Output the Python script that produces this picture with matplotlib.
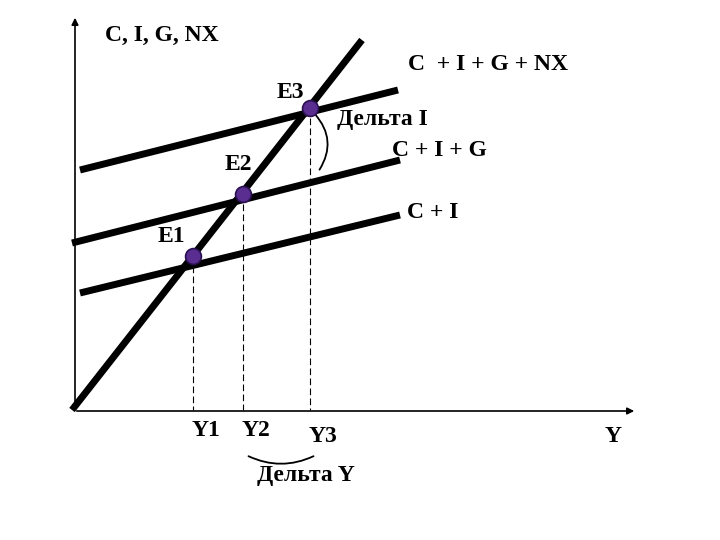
import matplotlib
matplotlib.use("Agg")
import matplotlib.pyplot as plt
from matplotlib.patches import FancyArrowPatch

# ── diagram geometry (picture coordinates, y grows downward) ──
LINE_45 = ([72, 362], [410, 40])
LINE_CI = ([80, 400], [293, 215])
LINE_CIG = ([72, 400], [243, 160])
LINE_CIGNX = ([80, 398], [170, 90])

POINT_NAMES = ["E1", "E2", "E3"]
POINT_X = [193, 243, 310]
POINT_Y = [256, 194, 108]
Y_LABELS = ["Y1", "Y2", "Y3"]

FONT = dict(family="Liberation Serif", fontweight="bold", color="black")

fig = plt.figure(figsize=(7.2, 5.4), dpi=100)
ax = fig.add_axes([0, 0, 1, 1])
ax.set_xlim(0, 720)
ax.set_ylim(540, 0)
ax.axis("off")

# axes with arrows
ax.annotate("", xy=(75, 15), xytext=(75, 411),
            arrowprops=dict(arrowstyle="-|>", color="black", lw=1.2))
ax.annotate("", xy=(637, 411), xytext=(74, 411),
            arrowprops=dict(arrowstyle="-|>", color="black", lw=1.2))

for xs, ys in [LINE_45, LINE_CI, LINE_CIG, LINE_CIGNX]:
    ax.plot(xs, ys, color="black", lw=5, solid_capstyle="butt")

# dashed drop lines
for x, y in zip(POINT_X, POINT_Y):
    ax.plot([x, x], [y, 410], color="black", lw=0.8, ls=(0, (6, 3)))

ax.scatter(POINT_X, POINT_Y, s=130, color="#5a2d91", edgecolors="#2a1050",
           linewidths=1.2, zorder=5)

# curved brackets
ax.add_patch(FancyArrowPatch((313, 112), (318, 172), arrowstyle="-",
                             connectionstyle="arc3,rad=-0.4", lw=1.3, color="black"))
ax.add_patch(FancyArrowPatch((246, 455), (316, 455), arrowstyle="-",
                             connectionstyle="arc3,rad=0.25", lw=1.3, color="black"))

fs = 17
ax.text(105, 35, "C, I, G, NX", fontsize=fs, va="center", **FONT)
ax.text(277, 92, POINT_NAMES[2], fontsize=fs, va="center", **FONT)
ax.text(225, 165, POINT_NAMES[1], fontsize=fs, va="center", **FONT)
ax.text(158, 237, POINT_NAMES[0], fontsize=fs, va="center", **FONT)
ax.text(408, 65, "C  + I + G + NX", fontsize=fs, va="center", **FONT)
ax.text(337, 120, "Дельта I", fontsize=fs, va="center", **FONT)
ax.text(392, 150, "C + I + G", fontsize=fs, va="center", **FONT)
ax.text(407, 212, "C + I", fontsize=fs, va="center", **FONT)
for x, lab, dy in zip(POINT_X, Y_LABELS, [0, 0, 5]):
    ax.text(x + 13, 431 + dy, lab, fontsize=fs, ha="center", va="center", **FONT)
ax.text(613, 437, "Y", fontsize=fs, ha="center", va="center", **FONT)
ax.text(257, 475, "Дельта Y", fontsize=fs, va="center", **FONT)

fig.savefig("out.png", dpi=100)
